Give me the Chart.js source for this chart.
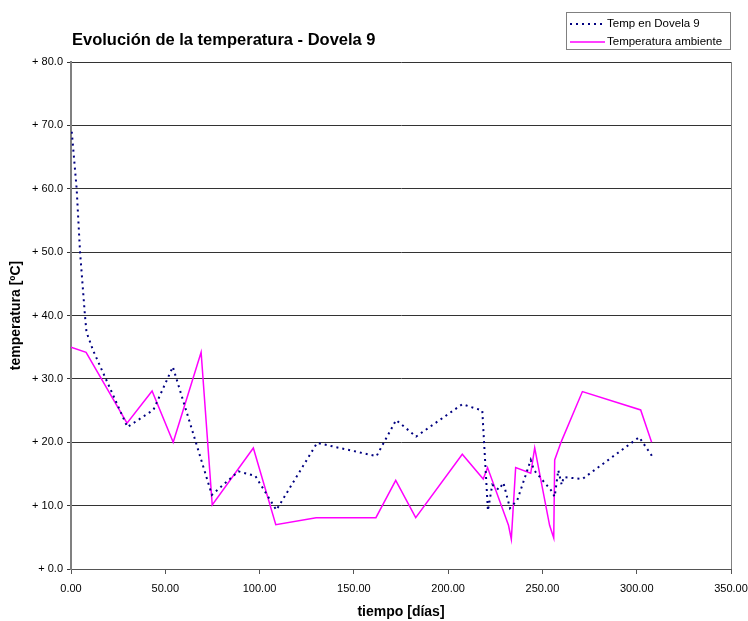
<!DOCTYPE html>
<html>
<head>
<meta charset="utf-8">
<script src="https://cdn.jsdelivr.net/npm/chart.js@4"></script>
<style>
  html, body { margin: 0; padding: 0; background: #fff; }
  #wrap { width: 748px; height: 621px; position: relative; }
</style>
</head>
<body>
<div id="wrap"><canvas id="tempChart" width="748" height="621"></canvas></div>
<script>
// ===== Datos =====
const chartTitle = 'Evolución de la temperatura - Dovela 9';
const seriesNames = ['Temp en Dovela 9', 'Temperatura ambiente'];

const dovelaDays = [0.4, 3.0, 4.8, 7.4, 8.2, 11.7, 29.9, 43.7, 54.0, 74.7, 88.8, 97.7, 108.9,
    130.5, 162, 172.4, 183, 207.5, 218.1, 221.1, 223.4, 226.9, 229.3, 232.8, 236.7,
    243.8, 245.5, 254.4, 256.5, 258.4, 260.2, 261.3, 271.2, 301.3, 308.4];
const dovelaTemp = [69.0, 60.0, 50.0, 40.0, 37.4, 34.5, 22.4, 25.1, 31.9, 11.7, 15.4, 14.7, 9.3,
    19.9, 17.8, 23.5, 20.9, 26.0, 25.0, 9.2, 13.3, 12.5, 13.6, 9.6, 10.9,
    17.2, 15.6, 12.5, 11.4, 15.6, 13.3, 14.5, 14.2, 20.8, 17.7];

const ambDays = [0, 8, 29.7, 43, 54.2, 69, 74.9, 96.7, 108.6, 130, 161.7, 172.2, 182.8,
    207.5, 218.6, 220.9, 232, 233.5, 235.8, 243.8, 245.9, 253.8, 256, 256.5, 260, 271.2,
    302.1, 307.9];
const ambTemp = [35.0, 34.2, 23.0, 28.1, 20.0, 34.2, 10.1, 19.1, 7.0, 8.1, 8.1, 14.0, 8.1,
    18.1, 14.2, 16.0, 6.9, 4.7, 16.0, 15.1, 19.1, 6.9, 4.9, 17.2, 20.1, 28.0,
    25.1, 20.0];

const xTicks = [0, 50, 100, 150, 200, 250, 300, 350];
const yTicks = [0, 10, 20, 30, 40, 50, 60, 70, 80];

const toPoints = (xs, ys) => xs.map((x, i) => ({ x: x, y: ys[i] }));

// ===== Plugin: marco derecho, título y leyenda =====
const decor = {
    id: 'decor',
    beforeDatasetsDraw(chart) {
        const c = chart.ctx, a = chart.chartArea;
        c.save();
        c.strokeStyle = '#808080';
        c.lineWidth = 1;
        c.beginPath();
        c.moveTo(a.right + 0.5, a.top);
        c.lineTo(a.right + 0.5, a.bottom);
        c.stroke();
        c.restore();
    },
    afterDraw(chart) {
        const c = chart.ctx;
        c.save();
        // título
        c.fillStyle = '#000';
        c.font = 'bold 16.5px "Liberation Sans", Arial, sans-serif';
        c.textBaseline = 'middle';
        c.textAlign = 'left';
        c.fillText(chartTitle, 72, 40);

        // leyenda
        c.fillStyle = '#fff';
        c.fillRect(566.5, 12.5, 164, 37);
        c.strokeStyle = '#808080';
        c.lineWidth = 1;
        c.strokeRect(566.5, 12.5, 164, 37);
        const ds = chart.data.datasets;
        const rows = [24, 42];
        c.font = '11.5px "Liberation Sans", Arial, sans-serif';
        ds.forEach((d, i) => {
            c.strokeStyle = d.borderColor;
            c.lineWidth = d.borderWidth;
            c.setLineDash(d.borderDash || []);
            c.beginPath();
            c.moveTo(570, rows[i]);
            c.lineTo(605, rows[i]);
            c.stroke();
            c.setLineDash([]);
            c.fillStyle = '#000';
            c.fillText(d.label, 607, rows[i]);
        });
        c.restore();
    }
};

const ctx = document.getElementById('tempChart');
new Chart(ctx, {
    type: 'line',
    data: {
        datasets: [{
            label: seriesNames[0],
            data: toPoints(dovelaDays, dovelaTemp),
            borderColor: '#000080',
            borderWidth: 2,
            borderDash: [2, 4],
            pointRadius: 0,
            tension: 0,
            fill: false
        }, {
            label: seriesNames[1],
            data: toPoints(ambDays, ambTemp),
            borderColor: '#ff00ff',
            borderWidth: 1.5,
            pointRadius: 0,
            tension: 0,
            fill: false
        }]
    },
    options: {
        responsive: false,
        animation: false,
        layout: { padding: { top: 62, right: 17, left: 0, bottom: 0 } },
        plugins: { legend: { display: false }, tooltip: { enabled: false } },
        scales: {
            x: {
                type: 'linear',
                min: 0, max: 350,
                afterBuildTicks: s => { s.ticks = xTicks.map(v => ({ value: v })); },
                afterFit: s => { s.height = 52; s.paddingLeft = 0; s.paddingRight = 0; },
                ticks: {
                    color: '#000',
                    font: { family: '"Liberation Sans", Arial', size: 11 },
                    padding: 8,
                    maxRotation: 0,
                    callback: v => v.toFixed(2)
                },
                grid: { drawOnChartArea: false, color: '#555', tickLength: 5 },
                border: { color: '#555', width: 1 },
                title: {
                    display: true,
                    text: 'tiempo [días]',
                    color: '#000',
                    font: { family: '"Liberation Sans", Arial', size: 14, weight: 'bold' },
                    padding: { top: 4, bottom: 0 }
                }
            },
            y: {
                min: 0, max: 80,
                afterBuildTicks: s => { s.ticks = yTicks.map(v => ({ value: v })); },
                afterFit: s => { s.width = 71; },
                ticks: {
                    color: '#000',
                    font: { family: '"Liberation Sans", Arial', size: 11 },
                    padding: 4,
                    callback: v => '+ ' + v.toFixed(1)
                },
                grid: { color: '#333', lineWidth: 1, tickLength: 4 },
                border: { color: '#808080', width: 2 },
                title: {
                    display: true,
                    text: 'temperatura [ºC]',
                    color: '#000',
                    font: { family: '"Liberation Sans", Arial', size: 14, weight: 'bold' },
                    padding: { top: 8, bottom: 4 }
                }
            }
        }
    },
    plugins: [decor]
});
</script>
</body>
</html>
